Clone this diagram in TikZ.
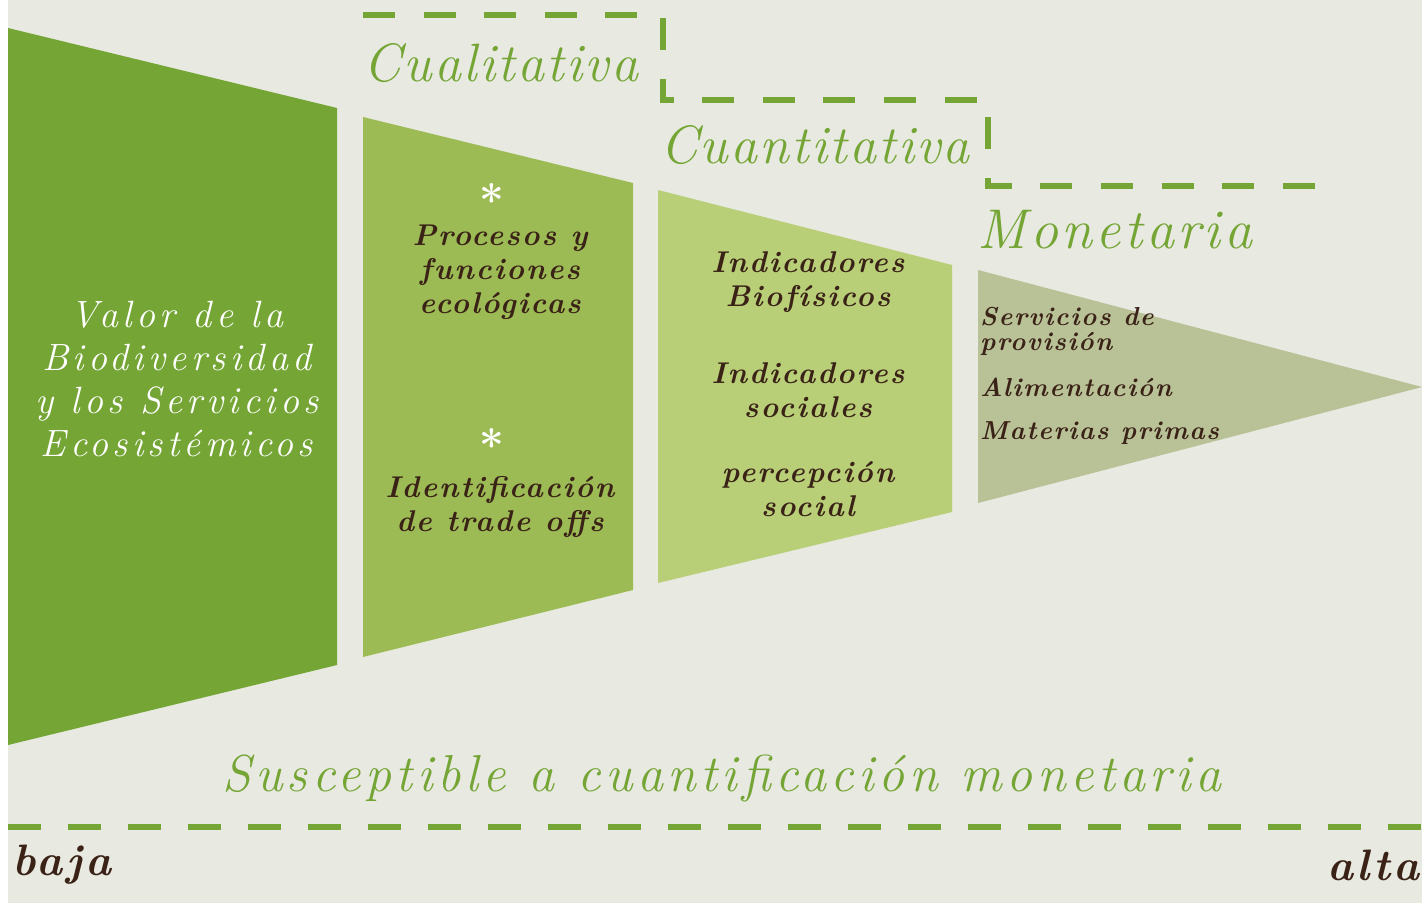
\documentclass[tikz,border=0pt]{standalone}
\usepackage{fontspec}
\newfontfamily\lsTitle[LetterSpace=4]{Latin Modern Roman}
\newfontfamily\lsMon[LetterSpace=6]{Latin Modern Roman}
\newfontfamily\lsSusc[LetterSpace=8.6]{Latin Modern Roman}
\newfontfamily\lsWhite[LetterSpace=11]{Latin Modern Roman}
\newfontfamily\lsBrown[LetterSpace=6.5]{Latin Modern Roman}
\newfontfamily\lsSmall[LetterSpace=6]{Latin Modern Roman}
\newfontfamily\lsEnd[LetterSpace=8]{Latin Modern Roman}
\definecolor{bgc}{HTML}{E8E9E0}
\definecolor{g1}{HTML}{74A535}
\definecolor{g2}{HTML}{9DBB55}
\definecolor{g3}{HTML}{B8CF78}
\definecolor{g4}{HTML}{B9C197}
\definecolor{brn}{HTML}{3A2217}
\tikzset{
  gdash/.style={draw=g1, line width=6pt, dash pattern=on 32pt off 28.6pt},
  gdashb/.style={draw=g1, line width=6pt, dash pattern=on 33pt off 27pt},
  gtitle/.style={text=g1, font=\lsTitle\itshape\fontsize{54}{60}\selectfont, inner sep=0pt},
  wtext/.style={text=white, align=center, font=\lsWhite\itshape\fontsize{38}{43}\selectfont, inner sep=0pt},
  btext/.style={text=brn, align=center, font=\lsBrown\bfseries\itshape\fontsize{30}{34}\selectfont, inner sep=0pt},
  stext/.style={text=brn, align=left, font=\lsSmall\bfseries\itshape\fontsize{26}{25}\selectfont, inner sep=0pt, anchor=west},
  star/.style={text=white, font=\bfseries\fontsize{44}{44}\selectfont, inner sep=0pt},
  endlabel/.style={text=brn, font=\lsEnd\bfseries\itshape\fontsize{44}{48}\selectfont, inner sep=0pt},
}
\begin{document}
\begin{tikzpicture}[x=1pt,y=-1pt]
\useasboundingbox (0,0) rectangle (1422,908);
\fill[white] (0,0) rectangle (1422,908);
\fill[bgc] (8,0) rectangle (1422,903);
% funnel stages
\fill[g1] (8,28) -- (337,108) -- (337,665) -- (8,745) -- cycle;
\fill[g2] (363,117) -- (633,183) -- (633,590) -- (363,657) -- cycle;
\fill[g3] (658,190) -- (952,265) -- (952,512) -- (658,583) -- cycle;
\fill[g4] (978,270) -- (1422,387) -- (978,503) -- cycle;
% dashed steps
\coordinate (s0) at (363,15);
\coordinate (s1) at (663,15);
\coordinate (s2) at (663,100);
\coordinate (s3) at (988,100);
\coordinate (s4) at (988,186);
\coordinate (s5) at (1315,186);
\draw[gdash] (s0) -- (s1) -- (s2) -- (s3) -- (s4) -- (s5);
\coordinate (b0) at (8,827);
\coordinate (b1) at (1422,827);
\draw[gdashb] (b0) -- (b1);
% titles
\node[gtitle] (cual) at (501,63) {Cualitativa};
\node[gtitle] (cuan) at (815,145) {Cuantitativa};
\node[gtitle, font=\lsMon\itshape\fontsize{56}{60}\selectfont] (mon) at (1115,230) {Monetaria};
% texts
\node[wtext] (valor) at (177,379) {Valor de la\\Biodiversidad\\y los Servicios\\Ecosistémicos};
\node[star] (st1) at (492,200) {*};
\node[star] (st2) at (492,445) {*};
\node[btext] (proc) at (500,272) {Procesos y\\funciones\\ecológicas};
\node[btext] (ident) at (500,507) {Identificación\\de trade offs};
\node[btext] (ib) at (808,282) {Indicadores\\Biofísicos};
\node[btext] (is) at (808,390) {Indicadores\\sociales};
\node[btext] (ps) at (808,489) {percepción\\social};
\node[stext] (serv) at (980,331) {Servicios de\\provisión};
\node[stext] (alim) at (980,387) {Alimentación};
\node[stext] (mat) at (980,433) {Materias primas};
\node[gtitle, font=\lsSusc\itshape\fontsize{52}{56}\selectfont] (susc) at (722,778) {Susceptible a cuantificación monetaria};
\node[endlabel, anchor=west] (baja) at (12,865) {baja};
\node[endlabel, anchor=east] (alta) at (1420,865) {alta};
\end{tikzpicture}
\end{document}
